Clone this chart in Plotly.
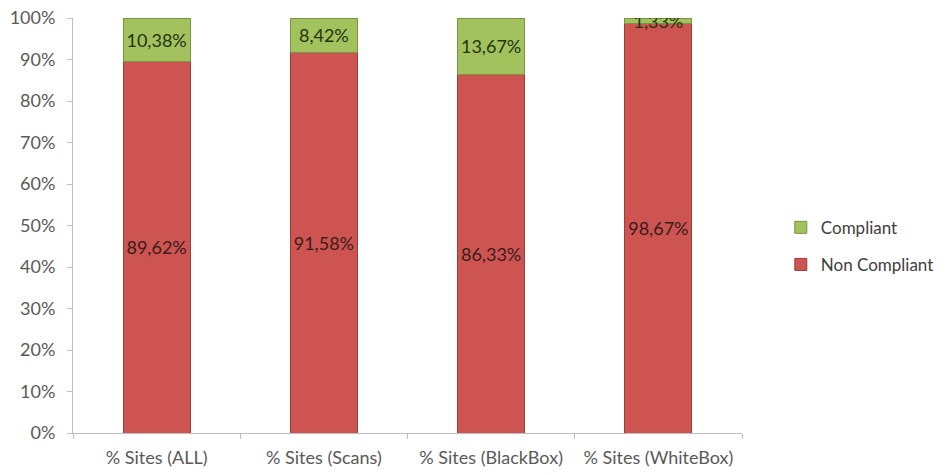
import plotly.graph_objects as go

categories = ["% Sites (ALL)", "% Sites (Scans)", "% Sites (BlackBox)", "% Sites (WhiteBox)"]
non_compliant = [89.62, 91.58, 86.33, 98.67]
compliant = [10.38, 8.42, 13.67, 1.33]
y_ticks = list(range(0, 101, 10))
y_tick_labels = [f"{v}%" for v in y_ticks]

RED = "#CD5451"
RED_EDGE = "#9A3D3B"
GREEN = "#A2C25E"
GREEN_EDGE = "#7A9443"
FONT = "Lato, sans-serif"

def fmt(v):
    return f"{v:.2f}".replace(".", ",") + "%"

fig = go.Figure()
fig.add_trace(go.Bar(
    x=categories, y=non_compliant, name="Non Compliant",
    legendgroup="nc", legendrank=2,
    marker=dict(color=RED, line=dict(color=RED_EDGE, width=1)),
    text=[fmt(v) for v in non_compliant], textposition="inside",
    insidetextanchor="middle", constraintext="none", textangle=0,
    textfont=dict(family=FONT, size=18, color="#3A1C1C"),
))
fig.add_trace(go.Bar(
    x=categories, y=compliant, name="Compliant",
    legendgroup="c", legendrank=1,
    marker=dict(color=GREEN, line=dict(color=GREEN_EDGE, width=1)),
    text=[fmt(v) for v in compliant], textposition="inside",
    insidetextanchor="middle", constraintext="none", textangle=0,
    textfont=dict(family=FONT, size=18, color="#26330F"),
))

fig.update_layout(
    barmode="stack",
    bargap=0.6,
    width=949, height=475,
    margin=dict(l=73, r=207, t=18, b=42, autoexpand=False),
    plot_bgcolor="white", paper_bgcolor="white",
    font=dict(family=FONT, size=18, color="#595959"),
    showlegend=True,
    legend=dict(
        traceorder="grouped", tracegroupgap=12,
        x=1.058, y=0.45, xanchor="left", yanchor="middle",
        font=dict(size=17, color="#404040"),
        itemwidth=30,
    ),
)
fig.update_xaxes(
    showline=True, linecolor="#BFBFBF", linewidth=1,
    ticks="outside", tickcolor="#BFBFBF", ticklen=5,
    tickson="boundaries", showgrid=False, automargin=False,
    ticklabelstandoff=8,
    tickfont=dict(size=18, color="#595959"),
)
fig.update_yaxes(
    range=[0, 100], tickmode="array", tickvals=y_ticks, ticktext=y_tick_labels,
    showline=True, linecolor="#BFBFBF", linewidth=1,
    ticks="outside", tickcolor="#BFBFBF", ticklen=5,
    showgrid=False, zeroline=False, automargin=False,
    ticklabelstandoff=8,
    tickfont=dict(size=18, color="#595959"),
)

fig.write_html("out.html")
